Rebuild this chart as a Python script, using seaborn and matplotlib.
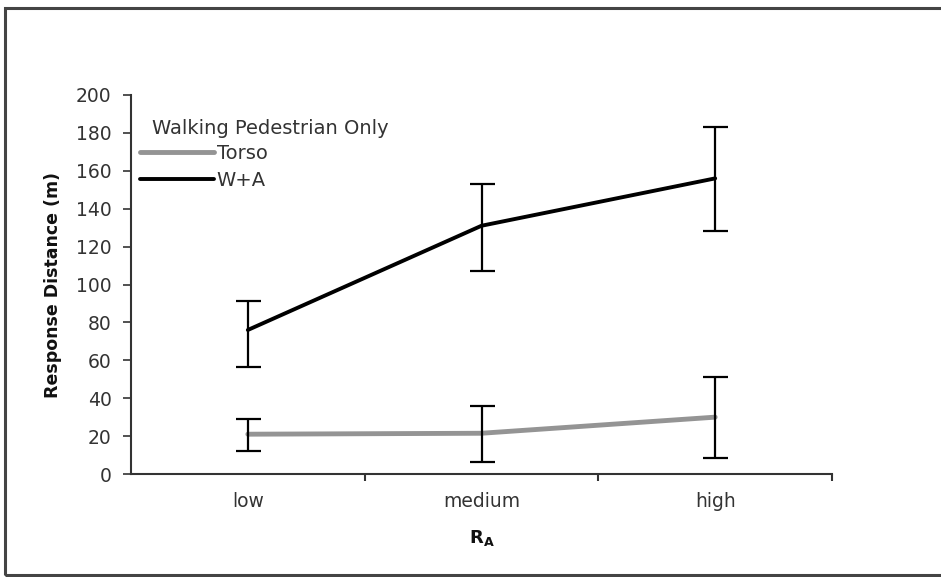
import numpy as np
import pandas as pd
import matplotlib
matplotlib.use("Agg")
import matplotlib.pyplot as plt
import seaborn as sns
from matplotlib.patches import Rectangle
from matplotlib.lines import Line2D

categories = ["low", "medium", "high"]
torso_mean = [21, 21.5, 30]
torso_low = [12, 6.5, 8.5]
torso_high = [29, 36, 51]
wa_mean = [76, 131, 156]
wa_low = [56.5, 107, 128]
wa_high = [91.5, 153, 183]
series_names = ["Torso", "W+A"]
legend_title = "Walking Pedestrian Only"
yticks = [0, 20, 40, 60, 80, 100, 120, 140, 160, 180, 200]

sns.set_theme(style="white")
plt.rcParams["font.family"] = ["DejaVu Sans"]

df = pd.DataFrame({
    "RA": categories * 2,
    "dist": torso_mean + wa_mean,
    "series": [series_names[0]] * 3 + [series_names[1]] * 3,
})

fig = plt.figure(figsize=(9.41, 5.77), dpi=100)
ax = fig.add_axes([131 / 941, 1 - 474 / 577, (832 - 131) / 941, (474 - 95) / 577])

palette = {"Torso": "#949494", "W+A": "#000000"}
sns.lineplot(data=df, x="RA", y="dist", hue="series", palette=palette, ax=ax,
             sort=False, legend=False)
lines = ax.get_lines()
lines[0].set_linewidth(3.5)
lines[1].set_linewidth(2.8)

xs = np.arange(len(categories))
for m, lo, hi in [(torso_mean, torso_low, torso_high), (wa_mean, wa_low, wa_high)]:
    m = np.array(m); lo = np.array(lo); hi = np.array(hi)
    ax.errorbar(xs, m, yerr=[m - lo, hi - m], fmt="none", ecolor="black",
                elinewidth=1.6, capsize=9, capthick=1.6, zorder=3)

ax.set_xlim(-0.5, 2.5)
ax.set_ylim(0, 200)
ax.set_yticks(yticks)
ax.set_xticks(xs)
ax.set_xticklabels(categories)
ax.set_xticks([0.5, 1.5, 2.5], minor=True)
ax.tick_params(axis="x", which="major", length=0, pad=13, labelsize=13.5, colors="#333333")
ax.tick_params(axis="x", which="minor", length=5, width=1.5, direction="out", color="#333333", bottom=True)
ax.tick_params(axis="y", which="major", length=6, width=1.2, direction="out", left=True,
               labelsize=13.5, colors="#333333", pad=8)
for s in ["top", "right"]:
    ax.spines[s].set_visible(False)
for s in ["left", "bottom"]:
    ax.spines[s].set_color("#333333")
    ax.spines[s].set_linewidth(1.5)
ax.grid(False)

ax.set_ylabel("Response Distance (m)", fontsize=12.5, fontweight="bold", labelpad=10, color="#111111")
ax.set_xlabel(r"$\mathbf{R_A}$", fontsize=13, labelpad=12, color="#111111")

handles = [Line2D([0], [0], color="#949494", lw=3.5), Line2D([0], [0], color="black", lw=2.8)]
leg = ax.legend(handles, series_names, loc="upper left",
                bbox_to_anchor=(9 / 701, (474 - 144) / 379), frameon=False, fontsize=14,
                handlelength=3.8, handletextpad=0.15, labelspacing=0.4,
                borderaxespad=0.0, borderpad=0.0)
for t in leg.get_texts():
    t.set_color("#333333")
fig.text(152 / 941, 1 - 128 / 577, legend_title, fontsize=14, color="#333333",
         ha="left", va="center")

fig.patches.append(Rectangle((5 / 941, 2 / 577), 1.02, 1 - 9.5 / 577, transform=fig.transFigure,
                             fill=False, edgecolor="#444444", linewidth=2.2))

fig.savefig("out.png", dpi=100)
